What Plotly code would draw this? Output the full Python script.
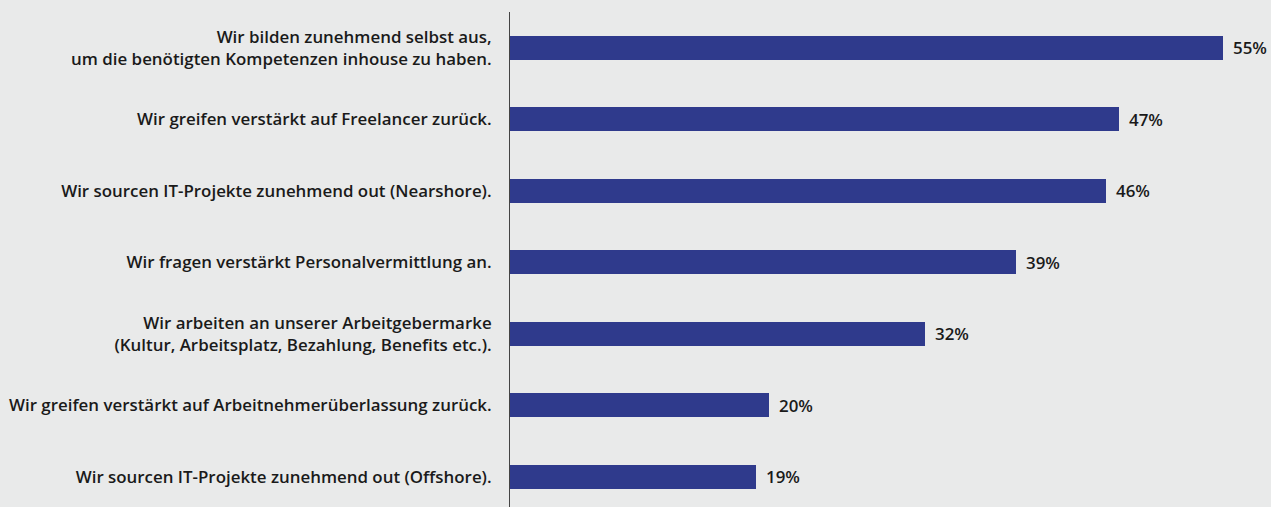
import plotly.graph_objects as go

categories = [
    "Wir bilden zunehmend selbst aus,<br>um die benötigten Kompetenzen inhouse zu haben.",
    "Wir greifen verstärkt auf Freelancer zurück.",
    "Wir sourcen IT-Projekte zunehmend out (Nearshore).",
    "Wir fragen verstärkt Personalvermittlung an.",
    "Wir arbeiten an unserer Arbeitgebermarke<br>(Kultur, Arbeitsplatz, Bezahlung, Benefits etc.).",
    "Wir greifen verstärkt auf Arbeitnehmerüberlassung zurück.",
    "Wir sourcen IT-Projekte zunehmend out (Offshore).",
]
values = [55, 47, 46, 39, 32, 20, 19]
value_labels = ["55%", "47%", "46%", "39%", "32%", "20%", "19%"]

BG = "#e9eaea"
BAR = "#2f3a8c"
FONT = "Open Sans"
TXT = "#1a1a1a"

fig = go.Figure(go.Bar(
    x=values, y=categories, orientation="h",
    marker=dict(color=BAR, line=dict(width=0)),
    width=0.336,
    hoverinfo="skip",
))

for c, v, t in zip(categories, values, value_labels):
    fig.add_annotation(x=v, y=c, text=t, showarrow=False, xanchor="left",
                       xshift=8, font=dict(family=FONT, size=16.9, color=TXT, weight=600))

fig.update_layout(
    width=1271, height=507,
    margin=dict(l=510, r=9, t=12, b=0),
    paper_bgcolor=BG, plot_bgcolor=BG,
    showlegend=False,
    font=dict(family=FONT, size=16.9, color=TXT),
    bargap=0,
)
fig.update_xaxes(range=[0, 58], visible=False, showgrid=False, zeroline=False)
fig.update_yaxes(
    type="category", categoryorder="array", categoryarray=categories,
    range=[6.42, -0.5],
    showline=True, linecolor="#444444", linewidth=1,
    showgrid=False, zeroline=False, ticks="",
    ticklabelstandoff=14,
    tickfont=dict(family=FONT, size=16.9, color=TXT, weight=600),
)

fig.write_html("out.html")
